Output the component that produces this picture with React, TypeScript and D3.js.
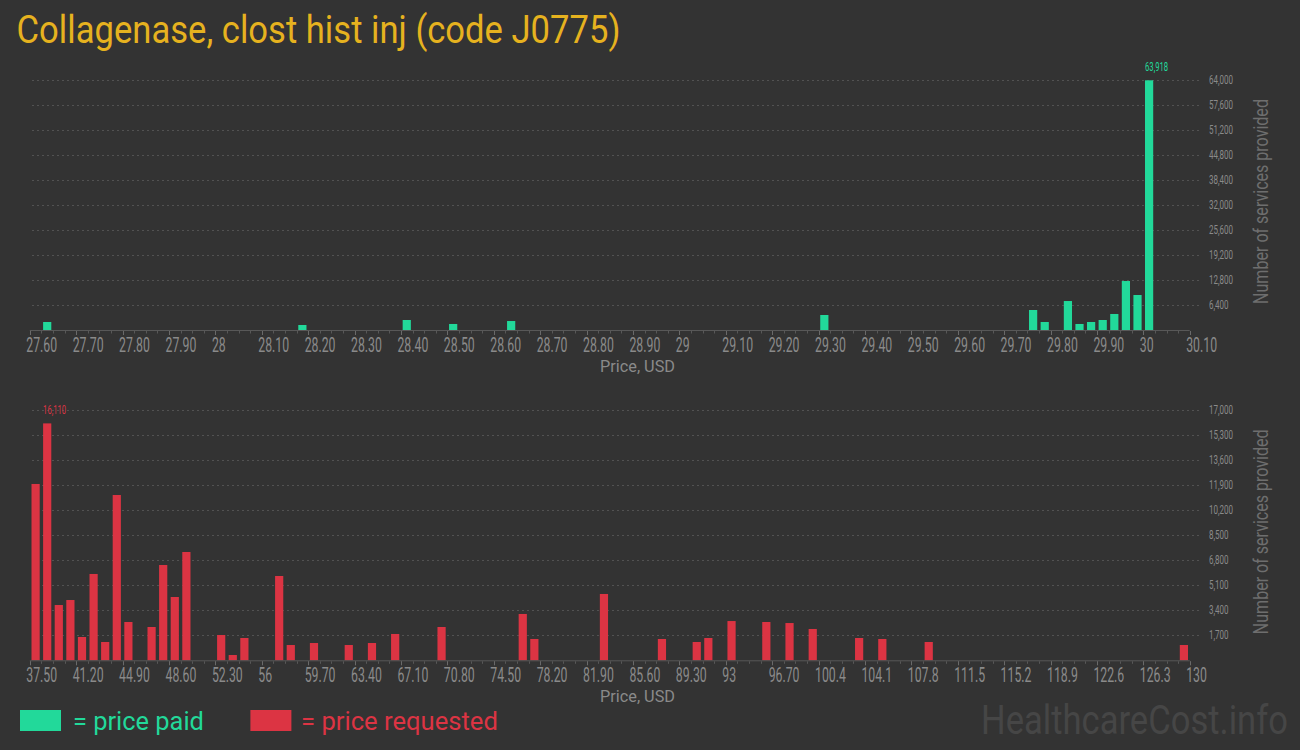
import React, { useLayoutEffect, useRef, useState } from 'react';
import * as d3 from 'd3';

// ---------- data (bin start price, number of services) ----------
const paidPrices = [27.625, 28.175, 28.4, 28.5, 28.625, 29.3, 29.75, 29.775, 29.825, 29.85, 29.875, 29.9, 29.925, 29.95, 29.975, 30.0];
const paidCounts = [2050, 1280, 2560, 1540, 2300, 3840, 5120, 2050, 7420, 1540, 2050, 2560, 4100, 12540, 8960, 63918];

const requestedPrices = [37.5, 38.425, 39.35, 40.275, 41.2, 42.125, 43.05, 43.975, 44.9, 46.75, 47.675, 48.6, 49.525, 52.3, 53.225, 54.15, 56.925, 57.85, 59.7, 62.475, 64.325, 66.175, 69.875, 76.35, 77.275, 82.825, 87.45, 90.225, 91.15, 93.0, 95.775, 97.625, 99.475, 103.175, 105.025, 108.725, 129.075];
const requestedCounts = [11990, 16110, 3760, 4100, 1585, 5870, 1245, 11240, 2605, 2265, 6480, 4305, 7365, 1720, 360, 1517, 5733, 1040, 1176, 1040, 1176, 1790, 2265, 3150, 1450, 4510, 1450, 1245, 1517, 2670, 2605, 2535, 2130, 1517, 1450, 1245, 1040];

const paidBinWidth = 0.025;
const requestedBinWidth = 0.925;

const paidTickLabels = ["27.60", "27.70", "27.80", "27.90", "28", "28.10", "28.20", "28.30", "28.40", "28.50", "28.60", "28.70", "28.80", "28.90", "29", "29.10", "29.20", "29.30", "29.40", "29.50", "29.60", "29.70", "29.80", "29.90", "30", "30.10"];
const requestedTickLabels = ["37.50", "41.20", "44.90", "48.60", "52.30", "56", "59.70", "63.40", "67.10", "70.80", "74.50", "78.20", "81.90", "85.60", "89.30", "93", "96.70", "100.4", "104.1", "107.8", "111.5", "115.2", "118.9", "122.6", "126.3", "130"];

const paidYTicks = [6400, 12800, 19200, 25600, 32000, 38400, 44800, 51200, 57600, 64000];
const requestedYTicks = [1700, 3400, 5100, 6800, 8500, 10200, 11900, 13600, 15300, 17000];

const titleText = "Collagenase, clost hist inj (code J0775)";
const xAxisTitle = "Price, USD";
const yAxisTitle = "Number of services provided";
const legendPaid = "= price paid";
const legendRequested = "= price requested";
const watermark = "HealthcareCost.info";

// ---------- styles ----------
const BG = "#333333";
const GREEN = "#22d99a";
const RED = "#dc3443";
const TITLE = "#e6b21f";
const LABEL = "#8a8a8a";
const FONT = "Roboto, 'Noto Sans', sans-serif";
const fmt = d3.format(",");

// Text squeezed horizontally (via a scale transform) to a target width
type FitProps = {
  x: number; y: number; width: number; rotate?: number; anchor?: "start" | "middle" | "end";
  fontSize: number; fill: string; children: string;
};
function FitText({ x, y, width, rotate = 0, anchor = "start", fontSize, fill, children }: FitProps) {
  const ref = useRef<SVGTextElement>(null);
  const [sx, setSx] = useState(1);
  useLayoutEffect(() => {
    if (ref.current) {
      const natural = ref.current.getComputedTextLength();
      if (natural > 0) setSx(width / natural);
    }
  }, [width, children, fontSize]);
  return (
    <text ref={ref} transform={`translate(${x},${y}) rotate(${rotate}) scale(${sx},1)`} textAnchor={anchor}
      fontSize={fontSize} fontFamily={FONT} fill={fill}>{children}</text>
  );
}

type PanelProps = {
  prices: number[];
  counts: number[];
  tickLabels: string[];
  yTicks: number[];
  binWidth: number;
  color: string;
  baseY: number;
  topY: number;
};

function Panel({ prices, counts, tickLabels, yTicks, binWidth, color, baseY, topY }: PanelProps) {
  const x0 = +tickLabels[0];
  const x1 = +tickLabels[tickLabels.length - 1];
  const x = d3.scaleLinear().domain([x0, x1]).range([29.8, 1189.7]);
  const y = d3.scaleLinear().domain([0, yTicks[yTicks.length - 1]]).range([baseY, topY]);
  const nBins = Math.round((x1 - x0) / binWidth);
  const minorIdx = d3.range(0, nBins + 1);
  const maxI = d3.maxIndex(counts);
  const pad = 1.7;
  const midY = (baseY + topY) / 2 - 3.5;

  return (
    <g>
      {/* grid */}
      {yTicks.map((t) => (
        <line key={"g" + t} x1={32} x2={1202} y1={Math.round(y(t)) + 0.5} y2={Math.round(y(t)) + 0.5}
          stroke="#525252" strokeWidth={1} strokeDasharray="2,3" />
      ))}
      {/* y tick labels */}
      {yTicks.map((t) => (
        <text key={"yl" + t} transform={`translate(1209,${y(t)}) scale(0.64,1)`} fontSize={12.5}
          fontFamily={FONT} fill={LABEL} dominantBaseline="central">{fmt(t)}</text>
      ))}
      {/* bars */}
      {prices.map((p, i) => {
        const xa = x(p) + pad;
        const w = x(p + binWidth) - x(p) - 2 * pad;
        return <rect key={"b" + i} x={xa} y={y(counts[i])} width={w} height={baseY - y(counts[i])} fill={color} />;
      })}
      {/* max label */}
      <text transform={`translate(${x(prices[maxI]) + pad},${y(counts[maxI]) - 9}) scale(0.64,1)`}
        fontSize={12} fontFamily={FONT} fill={color}>{fmt(counts[maxI])}</text>
      {/* axis line */}
      <line x1={29.8} x2={1189.7} y1={baseY + 0.5} y2={baseY + 0.5} stroke="#585858" strokeWidth={1} />
      {minorIdx.map((i) => {
        const xx = Math.round(x(x0 + i * binWidth)) + 0.5;
        return <line key={"m" + i} x1={xx} x2={xx} y1={baseY + 1} y2={baseY + 3.5} stroke="#585858" strokeWidth={1} />;
      })}
      {tickLabels.map((l) => {
        const xx = Math.round(x(+l)) + 0.5;
        return <line key={"t" + l} x1={xx} x2={xx} y1={baseY + 1} y2={baseY + 5} stroke="#6a6a6a" strokeWidth={1} />;
      })}
      {tickLabels.map((l) => (
        <text key={"xl" + l} transform={`translate(${x(+l) - 3.5},${baseY + 21.5}) scale(0.63,1)`}
          fontSize={19.5} fontFamily={FONT} fill={LABEL}>{l}</text>
      ))}
      <FitText x={637.5} y={baseY + 42} width={75} anchor="middle" fontSize={17} fill={LABEL}>{xAxisTitle}</FitText>
      <FitText x={1268} y={midY} width={205} rotate={-90} anchor="middle" fontSize={20} fill="#6e6e6e">{yAxisTitle}</FitText>
    </g>
  );
}

export default function App() {
  return (
    <svg width={1300} height={750} style={{ position: "absolute", left: 0, top: 0, display: "block" }}>
      <rect x={0} y={0} width={1300} height={750} fill={BG} />
      <FitText x={16.6} y={43.3} width={604} fontSize={39} fill={TITLE}>{titleText}</FitText>
      <Panel prices={paidPrices} counts={paidCounts} tickLabels={paidTickLabels} yTicks={paidYTicks}
        binWidth={paidBinWidth} color={GREEN} baseY={330} topY={80} />
      <Panel prices={requestedPrices} counts={requestedCounts} tickLabels={requestedTickLabels} yTicks={requestedYTicks}
        binWidth={requestedBinWidth} color={RED} baseY={660.3} topY={410.3} />
      {/* legend */}
      <rect x={20} y={710} width={41} height={21} fill={GREEN} />
      <FitText x={73} y={729.5} width={131} fontSize={26} fill={GREEN}>{legendPaid}</FitText>
      <rect x={250.4} y={710} width={41} height={21} fill={RED} />
      <FitText x={301} y={729.5} width={197} fontSize={26} fill={RED}>{legendRequested}</FitText>
      <FitText x={981} y={733.5} width={307} fontSize={40} fill="#464646">{watermark}</FitText>
    </svg>
  );
}
